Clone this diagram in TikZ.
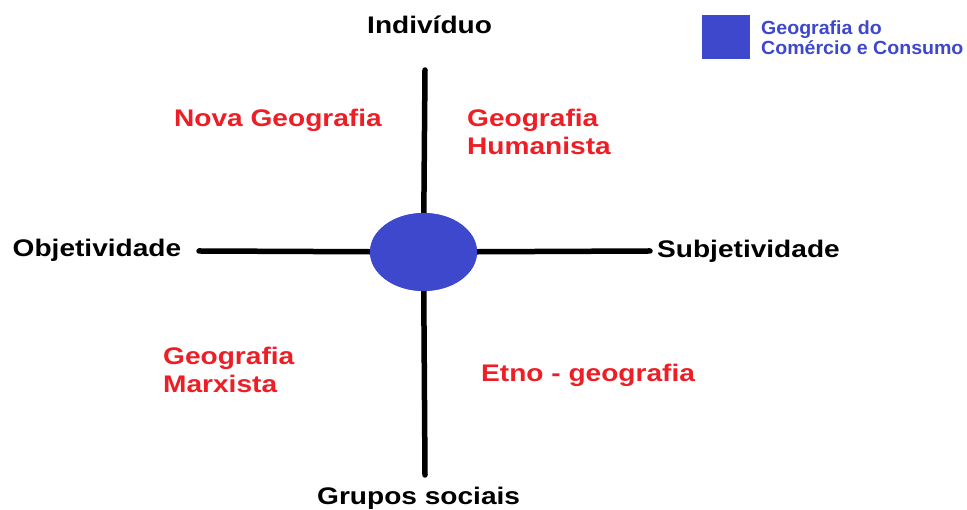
\documentclass[tikz,border=0pt]{standalone}
\usepackage{fontspec}
\setmainfont{Liberation Sans}
\usetikzlibrary{shapes.geometric}
\definecolor{geored}{RGB}{237,30,38}
\definecolor{geoblue}{RGB}{61,72,204}
\newcommand{\wide}[1]{\scalebox{1.17}[1]{#1}}
\newcommand{\widetwo}[2]{\scalebox{1.17}[1]{\begin{tabular}[t]{@{}l@{}}#1\\#2\end{tabular}}}
\tikzset{
  axislabel/.style={inner sep=0pt, anchor=base west, text=black, font=\fontsize{24}{27}\selectfont\bfseries},
  schoollabel/.style={inner sep=0pt, anchor=base west, text=geored, font=\fontsize{24}{28}\selectfont\bfseries},
  legendlabel/.style={inner sep=0pt, anchor=base west, text=geoblue, font=\fontsize{19}{20}\selectfont\bfseries},
  axisline/.style={line width=5.5pt, line cap=round, black},
  centre/.style={ellipse, fill=geoblue, minimum width=107pt, minimum height=78pt, inner sep=0pt},
  legendbox/.style={fill=geoblue, inner sep=0pt, minimum width=48pt, minimum height=44pt}
}
\begin{document}
\begin{tikzpicture}[x=1pt,y=1pt]
\useasboundingbox (0,0) rectangle (967,510);
\fill[white] (0,0) rectangle (967,510);
% axis end points
\coordinate (top) at (425,440);
\coordinate (bottom) at (425,35);
\coordinate (left) at (199,259);
\coordinate (right) at (650,259);
\node[centre] (c) at (423.5,258) {};
\draw[axisline] (c) -- (top);
\draw[axisline] (c) -- (bottom);
\draw[axisline] (c) -- (left);
\draw[axisline] (c) -- (right);
\node[centre] (cc) at (423.5,258) {};
% axis labels
\node[axislabel] (ind) at (367,476) {\wide{Indivíduo}};
\node[axislabel] (obj) at (12.5,253) {\wide{Objetividade}};
\node[axislabel] (sub) at (657,252) {\wide{Subjetividade}};
\node[axislabel] (gru) at (317,5.5) {\wide{Grupos sociais}};
% schools
\node[schoollabel] (nova) at (174,383) {\wide{Nova Geografia}};
\node[schoollabel] (hum) at (467,383) {\widetwo{Geografia}{Humanista}};
\node[schoollabel] (marx) at (163,145) {\widetwo{Geografia}{Marxista}};
\node[schoollabel] (etno) at (481,128) {\wide{Etno - geografia}};
% legend
\node[legendbox] (lbox) at (726,473) {};
\node[legendlabel] (ltext) at (761,475.7) {\scalebox{1.03}[1]{\begin{tabular}[t]{@{}l@{}}Geografia do\\Comércio e Consumo\end{tabular}}};
\end{tikzpicture}
\end{document}
